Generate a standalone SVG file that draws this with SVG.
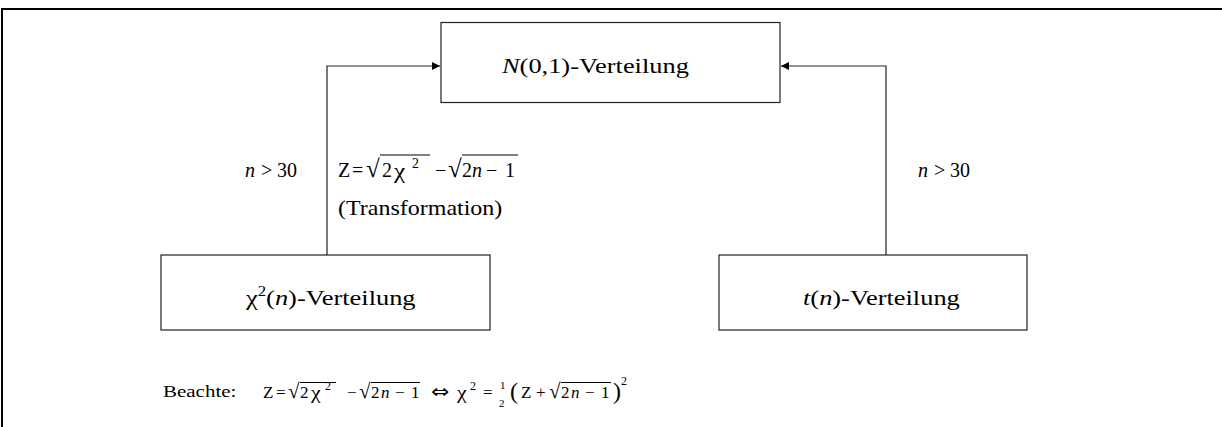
<svg xmlns="http://www.w3.org/2000/svg" width="1222" height="427" viewBox="0 0 1222 427">
<style>
.t{font-family:"Liberation Serif","Times New Roman","DejaVu Serif",serif;fill:#000}
.i{font-style:italic}
.box{fill:#fff;stroke:#222;stroke-width:1.2}
.conn{fill:none;stroke:#222;stroke-width:1.2}
.bar{stroke:#000;stroke-width:1}
</style>
<defs>
<marker id="arr" viewBox="0 0 10 10" refX="10" refY="5" markerWidth="8" markerHeight="9" markerUnits="userSpaceOnUse" orient="auto">
<path d="M0,0 L10,5 L0,10 z" fill="#000"/>
</marker>
</defs>
<path d="M2,427 V9 H1222" fill="none" stroke="#000" stroke-width="2"/>

<g id="connectors">
<path class="conn" d="M327,255 V66 H440" marker-end="url(#arr)"/>
<path class="conn" d="M886,255 V66 H781" marker-end="url(#arr)"/>
</g>

<g id="node-normal">
<rect class="box" x="441" y="22.5" width="339" height="80"/>
<text class="t" font-size="22" transform="translate(502,73) scale(1.2,1)"><tspan class="i">N</tspan>(0,1)-Verteilung</text>
</g>

<g id="node-chi">
<rect class="box" x="161" y="255" width="329" height="75"/>
<text class="t" font-size="22" transform="translate(246,305) scale(1.2,1)">χ<tspan font-size="14" dy="-9">2</tspan><tspan dy="9">(</tspan><tspan class="i">n</tspan>)-Verteilung</text>
</g>

<g id="node-t">
<rect class="box" x="719" y="255" width="308" height="75"/>
<text class="t" font-size="22" transform="translate(803,305) scale(1.2,1)"><tspan class="i">t</tspan>(<tspan class="i">n</tspan>)-Verteilung</text>
</g>

<g id="label-left">
<text class="t" font-size="20" y="177"><tspan class="i" x="245">n</tspan><tspan x="261">&gt;</tspan><tspan x="277">30</tspan></text>
<text class="t" font-size="20" y="177"><tspan x="338">Z</tspan><tspan x="352">=</tspan><tspan x="366" font-size="25">√</tspan><tspan x="382">2</tspan><tspan x="412" font-size="14" dy="-9">2</tspan><tspan x="435" dy="9">−</tspan><tspan x="448" font-size="25">√</tspan><tspan x="462">2</tspan><tspan class="i" x="472">n</tspan><tspan x="486">−</tspan><tspan x="505">1</tspan></text>
<text class="t" font-size="21" transform="translate(394,178) scale(1.2,1)">χ</text>
<line class="bar" x1="380" y1="155" x2="430" y2="155"/>
<line class="bar" x1="462" y1="155" x2="518" y2="155"/>
<text class="t" font-size="20" transform="translate(338,215) scale(1.2,1)">(Transformation)</text>
</g>

<g id="label-right">
<text class="t" font-size="20" y="177"><tspan class="i" x="918">n</tspan><tspan x="934">&gt;</tspan><tspan x="950">30</tspan></text>
</g>

<g id="note">
<text class="t" font-size="17.5" transform="translate(163,397) scale(1.2,1)">Beachte:</text>
<text class="t" font-size="17" y="398"><tspan x="263">Z</tspan><tspan x="276">=</tspan><tspan x="288" font-size="21">√</tspan><tspan x="300">2</tspan><tspan x="325" font-size="12" dy="-8">2</tspan><tspan x="347" dy="8">−</tspan><tspan x="359" font-size="21">√</tspan><tspan x="371">2</tspan><tspan class="i" x="381">n</tspan><tspan x="395">−</tspan><tspan x="411">1</tspan><tspan x="470" font-size="12" dy="-8">2</tspan><tspan x="483" dy="8">=</tspan><tspan x="510" font-size="24" dy="1">(</tspan><tspan x="521" dy="-1">Z</tspan><tspan x="536">+</tspan><tspan x="549" font-size="21">√</tspan><tspan x="561">2</tspan><tspan class="i" x="571">n</tspan><tspan x="585">−</tspan><tspan x="601">1</tspan><tspan x="613" font-size="24" dy="1">)</tspan><tspan x="621" font-size="12" dy="-14">2</tspan></text>
<text class="t" font-size="18" transform="translate(311,399) scale(1.2,1)">χ</text>
<text class="t" font-size="18" transform="translate(457,399) scale(1.2,1)">χ</text>
<text x="431" y="398" font-family="DejaVu Sans,sans-serif" font-size="19" transform="translate(431,398) scale(1.15,1) translate(-431,-398)">⇔</text>
<text class="t" font-size="11" x="500" y="389">1</text>
<text class="t" font-size="11" x="499" y="407">2</text>
<line class="bar" x1="300" y1="382.5" x2="336" y2="382.5"/>
<line class="bar" x1="371" y1="382.5" x2="420" y2="382.5"/>
<line class="bar" x1="561" y1="382.5" x2="611" y2="382.5"/>
</g>
</svg>
